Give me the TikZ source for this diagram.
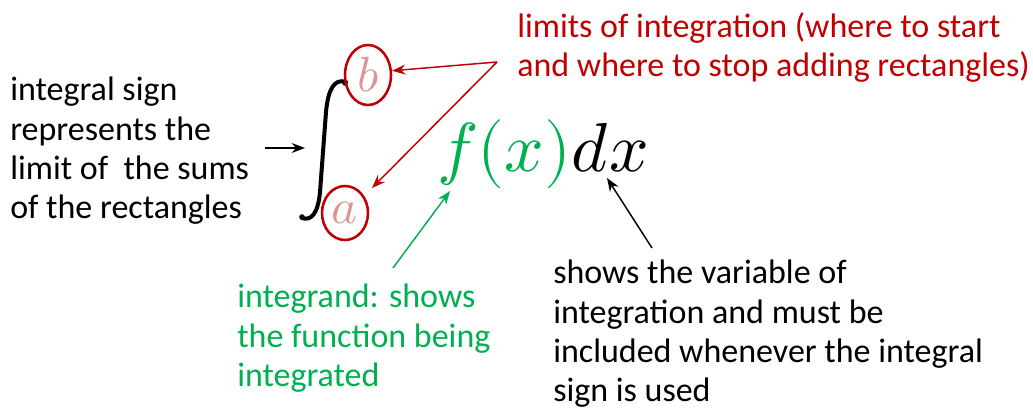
\documentclass[tikz,border=0pt]{standalone}
\usepackage{fontspec}
\usepackage{unicode-math}
\setmainfont{Carlito}
\setmathfont{Latin Modern Math}
\usetikzlibrary{arrows.meta,shapes.geometric}
\definecolor{ired}{RGB}{192,0,0}
\definecolor{igreen}{RGB}{0,176,80}
\definecolor{ipink}{RGB}{217,150,148}
\begin{document}
\begin{tikzpicture}[x=0.75pt,y=-0.75pt,
  txt/.style={anchor=north west,inner sep=0pt,align=left,font=\fontsize{25.5}{29.5}\selectfont},
  arr/.style={-{Stealth[length=10pt,width=7.5pt]},line width=1.1pt},
  lim/.style={draw=ired,ellipse,line width=1.9pt,inner sep=0pt,text=ipink,font=\fontsize{37}{40}\selectfont},
  mth/.style={anchor=base west,inner sep=0pt,font=\fontsize{52}{60}\selectfont},
]
\useasboundingbox (0,0) rectangle (1033,416);
% texts
\node[txt] (sign) at (10,77) {integral sign\\represents the\\limit of\ \ the sums\\of the rectangles};
\node[txt,text=ired] (limits) at (517,12) {limits of integration (where to start\\and where to stop adding rectangles)};
\node[txt,text=igreen] (integrand) at (237,284) {integrand: shows\\the function being\\integrated};
\node[txt] (var) at (553,260) {shows the variable of\\integration and must be\\included whenever the integral\\sign is used};
% integral sign
\draw[line width=3pt,line cap=round]
  (346,82) .. controls (334,78) and (328,90) .. (326,112)
  -- (320,192) .. controls (318,214) and (311,221) .. (302,218);
\fill (345,83) circle (2.8);
\fill (302,217) circle (2.8);
% limits
\node[lim,minimum width=34.5pt,minimum height=45pt] (b) at (368,75) {$b$};
\node[lim,minimum width=34.5pt,minimum height=40.5pt] (a) at (345,213) {$a$};
% integrand
\node[mth,text=igreen] (fx) at (437,172) {$f(x)$};
\node[mth] (dx) at (fx.base east) {$dx$};
% arrows
\coordinate (apex) at (497,62);
\coordinate (signtip) at (305,148);
\coordinate (signtail) at (265,148);
\coordinate (ftip) at (450,191);
\coordinate (ftail) at (393,268);
\coordinate (dtip) at (607,178);
\coordinate (dtail) at (652,248);
\draw[arr] (signtail) -- (signtip);
\draw[arr,ired] (apex) -- (b.10);
\draw[arr,ired] (apex) -- (372,188);
\draw[arr,igreen] (ftail) -- (ftip);
\draw[arr] (dtail) -- (dtip);
\end{tikzpicture}
\end{document}
